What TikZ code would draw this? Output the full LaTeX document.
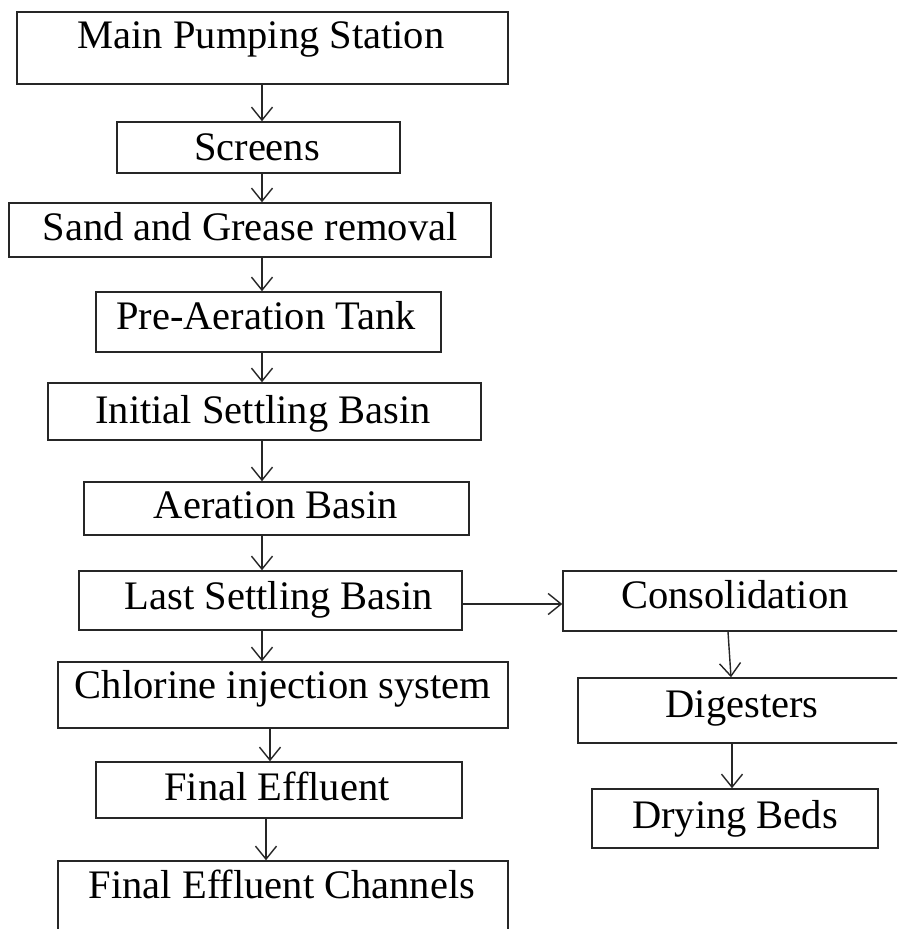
\documentclass[tikz,border=0pt]{standalone}
\usepackage{fontspec}
\setmainfont{Liberation Serif}
\usetikzlibrary{arrows.meta}
\tikzset{
  boxst/.style={draw=black!85, line width=1.5pt, inner sep=0pt},
  txt/.style={anchor=base, inner sep=0pt, font=\fontsize{40.5}{42}\selectfont},
  flow/.style={draw=black!85, line width=1.4pt, -{Straight Barb[length=13pt,width=21pt,line width=1.4pt]}},
}
\newcommand{\pbox}[5]{\node[boxst, minimum width=#4-#2, minimum height=#5-#3] (#1) at ({(#2+#4)/2},{-(#3+#5)/2}) {};}
\begin{document}
\begin{tikzpicture}[x=1pt,y=1pt]
\clip (0,0) rectangle (897,-929);
\fill[white] (0,0) rectangle (897,-929);
\pbox{b1}{17}{12}{508}{84}
\pbox{b2}{117}{122}{400}{173}
\pbox{b3}{9}{203}{491}{257}
\pbox{b4}{96}{292}{441}{352}
\pbox{b5}{48}{383}{481}{440}
\pbox{b6}{84}{482}{469}{535}
\pbox{b7}{79}{571}{462}{630}
\pbox{b8}{58}{662}{508}{728}
\pbox{b9}{96}{762}{462}{818}
\pbox{b10}{58}{861}{508}{960}
\pbox{b11}{563}{571}{930}{631}
\pbox{b12}{578}{678}{930}{743}
\pbox{b13}{592}{789}{878}{848}
\node[txt] (t1) at (261,-48) {Main Pumping Station};
\node[txt] (t2) at (257,-160) {Screens};
\node[txt] (t3) at (250,-240) {Sand and Grease removal};
\node[txt] (t4) at (266,-329) {Pre-Aeration Tank};
\node[txt] (t5) at (263,-423) {Initial Settling Basin};
\node[txt] (t6) at (276,-518) {Aeration Basin};
\node[txt] (t7) at (279,-609) {Last Settling Basin};
\node[txt] (t8) at (283,-698) {Chlorine injection system};
\node[txt] (t9) at (277,-800) {Final Effluent};
\node[txt] (t10) at (282,-898) {Final Effluent Channels};
\node[txt] (t11) at (735,-608) {Consolidation};
\node[txt] (t12) at (742,-717) {Digesters};
\node[txt] (t13) at (735,-828) {Drying Beds};
\coordinate (xa) at (262,0);
\draw[flow] (b1.south -| xa) -- (b2.north -| xa);
\draw[flow] (b2.south -| xa) -- (b3.north -| xa);
\draw[flow] (b3.south -| xa) -- (b4.north -| xa);
\draw[flow] (b4.south -| xa) -- (b5.north -| xa);
\draw[flow] (b5.south -| xa) -- (b6.north -| xa);
\draw[flow] (b6.south -| xa) -- (b7.north -| xa);
\draw[flow] (b7.south -| xa) -- (b8.north -| xa);
\coordinate (xb) at (270,0);
\draw[flow] (b8.south -| xb) -- (b9.north -| xb);
\coordinate (xc) at (266,0);
\draw[flow] (b9.south -| xc) -- (b10.north -| xc);
\coordinate (ya) at (0,-604);
\draw[flow] (b7.east |- ya) -- (b11.west |- ya);
\draw[flow] ([xshift=-18.5pt]b11.south) -- ([xshift=-23pt]b12.north);
\draw[flow] ([xshift=-22pt]b12.south) -- ([xshift=-3pt]b13.north);
\end{tikzpicture}
\end{document}
